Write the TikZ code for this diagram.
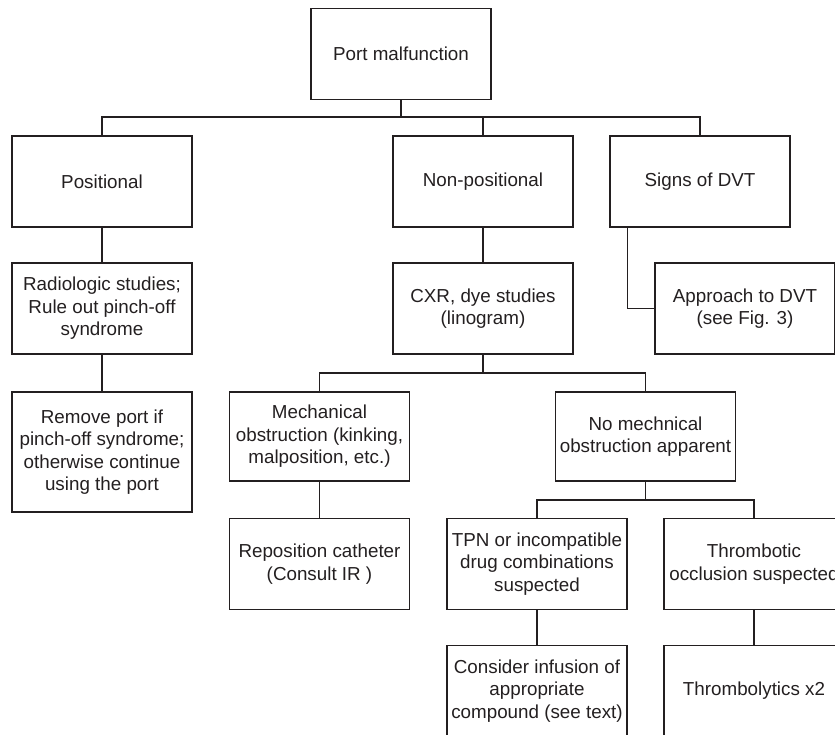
\documentclass[tikz,border=0pt]{standalone}
\usepackage{fontspec}
\setmainfont{Liberation Sans}
\definecolor{ink}{HTML}{231F20}
\begin{document}
\begin{tikzpicture}[x=1pt,y=-1pt,
  box/.style={draw=ink, line width=1.1pt, text=ink, align=center, inner sep=0pt,
    minimum width=180pt, minimum height=91pt,
    font=\fontsize{18.8}{22.5}\selectfont},
  conn/.style={draw=ink, line width=1.1pt}]
\useasboundingbox (0,0) rectangle (835,734);
\clip (0,0) rectangle (835,734);
% nodes
\node[box] (port) at (401,54) {Port malfunction};
\node[box] (pos) at (102,181.5) {Positional};
\node[box] (nonpos) at (483,181.5) {Non-positional};
\node[box] (dvt) at (700,181.5) {Signs of DVT};
\node[box] (radio) at (102,308.5) {Radiologic studies;\\Rule out pinch-off\\syndrome};
\node[box, minimum height=120pt] (remove) at (102,452) {Remove port if\\pinch-off syndrome;\\otherwise continue\\using the port};
\node[box] (cxr) at (483,308.5) {CXR, dye studies\\(linogram)};
\node[box] (appr) at (745,308.5) {Approach to DVT\\(see Fig. 3)};
\node[box, minimum height=89pt] (mech) at (319.5,436.5) {Mechanical\\obstruction (kinking,\\malposition, etc.)};
\node[box, minimum height=89pt] (nomech) at (645.5,436.5) {No mechnical\\obstruction apparent};
\node[box] (repos) at (319.5,564) {Reposition catheter\\(Consult IR )};
\node[box] (tpn) at (537,564) {TPN or incompatible\\drug combinations\\suspected};
\node[box] (thromb) at (754,564) {Thrombotic\\occlusion suspected};
\node[box] (consider) at (537,691) {Consider infusion of\\appropriate\\compound (see text)};
\node[box] (lytics) at (754,691) {Thrombolytics x2};
% junctions
\coordinate (j1) at (401,117);
\coordinate (j2) at (483,373);
\coordinate (j3) at (645.5,500);
% connectors
\draw[conn] (port.south) -- (j1);
\draw[conn] (pos.north) |- (j1) -| (dvt.north);
\draw[conn] (nonpos.north) -- (nonpos.north |- j1);
\draw[conn] (pos.south) -- (radio.north);
\draw[conn] (radio.south) -- (remove.north);
\draw[conn] (nonpos.south) -- (cxr.north);
\draw[conn] ([xshift=18pt]dvt.south west) |- (appr.west);
\draw[conn] (cxr.south) -- (j2);
\draw[conn] (mech.north) |- (j2) -| (nomech.north);
\draw[conn] (mech.south) -- (repos.north);
\draw[conn] (nomech.south) -- (j3);
\draw[conn] (tpn.north) |- (j3) -| (thromb.north);
\draw[conn] (tpn.south) -- (consider.north);
\draw[conn] (thromb.south) -- (lytics.north);
\end{tikzpicture}
\end{document}
